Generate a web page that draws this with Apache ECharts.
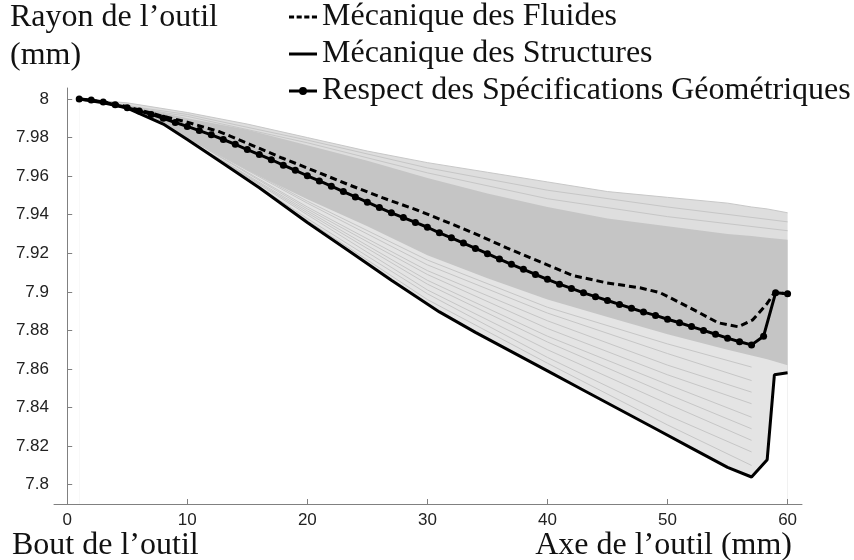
<!DOCTYPE html>
<html>
<head>
<meta charset="utf-8">
<script src="https://cdn.jsdelivr.net/npm/echarts@6/dist/echarts.min.js"></script>
<style>html,body{margin:0;padding:0;background:#fff}#c{width:854px;height:560px}</style>
</head>
<body>
<div id="c"></div>
<script>
// ---- data ----
const xTicks = [0, 10, 20, 30, 40, 50, 60];
const yTicks = [7.8, 7.82, 7.84, 7.86, 7.88, 7.9, 7.92, 7.94, 7.96, 7.98, 8];

const xFluides = [1, 3, 5, 8, 10, 12.7, 15.4, 17.9, 20.8, 23.5, 26.3, 29.1, 31.9, 33.8, 36.6, 39.4, 42.1, 44.9, 47.7, 49.4, 51, 52.7, 54.2, 55.9, 57.1, 58.3, 58.9, 60];
const yFluides = [8.000, 7.9985, 7.996, 7.991, 7.988, 7.983, 7.976, 7.9694, 7.9622, 7.9554, 7.9487, 7.9425, 7.9355, 7.9306, 7.9228, 7.9155, 7.9085, 7.9047, 7.9021, 7.8995, 7.8945, 7.889, 7.884, 7.8819, 7.8855, 7.894, 7.8995, 7.899];

const xStructures = [1, 3, 5, 8, 10, 13, 16, 20, 23.5, 27, 31, 34, 37, 40, 43, 46, 49, 52, 55, 57, 58.3, 58.9, 60];
const yStructures = [8.000, 7.998, 7.9953, 7.987, 7.979, 7.9665, 7.954, 7.936, 7.921, 7.906, 7.8896, 7.879, 7.869, 7.859, 7.849, 7.839, 7.829, 7.819, 7.809, 7.804, 7.813, 7.857, 7.858];

const xRespect = [1,2,3,4,5,6,7,8,9,10,11,12,13,14,15,16,17,18,19,20,21,22,23,24,25,26,27,28,29,30,31,32,33,34,35,36,37,38,39,40,41,42,43,44,45,46,47,48,49,50,51,52,53,54,55,56,57,58,59,60];
const yRespect = [8.000, 7.9995, 7.9985, 7.997, 7.9955, 7.9938, 7.992, 7.990, 7.9878, 7.9858,
  7.9836, 7.9814, 7.979, 7.9765, 7.9738, 7.9712, 7.9685, 7.9657, 7.963, 7.9602,
  7.9575, 7.9548, 7.952, 7.9492, 7.9465, 7.9437, 7.941, 7.9385, 7.936, 7.9335,
  7.9306, 7.928, 7.9253, 7.9225, 7.9198, 7.917, 7.9143, 7.9117, 7.909, 7.9065,
  7.904, 7.9018, 7.8995, 7.8975, 7.8955, 7.8935, 7.8915, 7.8895, 7.8878, 7.8858,
  7.884, 7.882, 7.880, 7.878, 7.876, 7.8741, 7.8725, 7.877, 7.8995, 7.899];

// grey fan of simulated profiles (envelopes)
const xFan = [1, 5, 10, 15, 20, 25, 30, 35, 40, 45, 50, 55, 57, 58.3, 60];
const fanTop = [8.000, 7.998, 7.993, 7.987, 7.980, 7.973, 7.967, 7.962, 7.957, 7.952, 7.949, 7.946, 7.944, 7.943, 7.941];
const bandTop = [8.000, 7.997, 7.990, 7.984, 7.976, 7.968, 7.959, 7.951, 7.944, 7.938, 7.934, 7.930, 7.929, 7.928, 7.927];
const bandBottom = [8.000, 7.994, 7.980, 7.963, 7.948, 7.934, 7.919, 7.907, 7.896, 7.887, 7.878, 7.870, 7.867, 7.865, 7.862];

// a few individual grey profiles visible in the light parts of the fan
const xUpperLines = [1, 10, 20, 30, 40, 50, 60];
const upperLine1 = [8.000, 7.992, 7.9787, 7.9643, 7.9527, 7.944, 7.9363];
const upperLine2 = [8.000, 7.991, 7.9773, 7.9617, 7.9483, 7.939, 7.9317];
const xLowerLines = [1, 10, 20, 30, 40, 50, 57];
const lowerLine1 = [8.000, 7.980, 7.947, 7.9165, 7.892, 7.873, 7.861];
const lowerLine2 = [8.000, 7.980, 7.946, 7.914, 7.889, 7.868, 7.854];
const lowerLine3 = [8.000, 7.980, 7.944, 7.911, 7.885, 7.862, 7.848];
const lowerLine4 = [8.000, 7.980, 7.943, 7.909, 7.881, 7.857, 7.842];
const lowerLine5 = [8.000, 7.979, 7.942, 7.906, 7.877, 7.852, 7.835];
const lowerLine6 = [8.000, 7.979, 7.941, 7.904, 7.874, 7.847, 7.829];
const lowerLine7 = [8.000, 7.979, 7.940, 7.901, 7.870, 7.842, 7.823];
const lowerLine8 = [8.000, 7.979, 7.938, 7.899, 7.866, 7.836, 7.817];
const lowerLine9 = [8.000, 7.979, 7.937, 7.896, 7.863, 7.831, 7.810];

const names = ['Mécanique des Fluides', 'Mécanique des Structures', 'Respect des Spécifications Géométriques'];

function pairs(xs, ys) { return xs.map((x, i) => [x, ys[i]]); }

const serif = '"Liberation Serif", "Times New Roman", serif';
const sans = '"Liberation Sans", Arial, sans-serif';

const iconDashed = 'path://M0,0h5v3h-5z M7.5,0h5v3h-5z M15,0h5v3h-5z M22.5,0h5v3h-5z';
const iconSolid = 'path://M0,0h28v3h-28z';
const iconDot = 'path://M0,3h28v3h-28z M10,4.5a4,4 0 1,1 8,0a4,4 0 1,1 -8,0z';

function fanLine(xs, ys) {
  return { type: 'line', z: 2, data: pairs(xs, ys), symbol: 'none', silent: true,
    lineStyle: { color: '#c6c6c6', width: 1 } };
}

const chart = echarts.init(document.getElementById('c'), null, { renderer: 'canvas' });
chart.setOption({
  animation: false,
  backgroundColor: '#fff',
  grid: { left: 54, right: 52, top: 88, bottom: 56, containLabel: false },
  xAxis: {
    type: 'value', min: -1.1, max: 61.2, z: 10,
    axisLine: { show: true, lineStyle: { color: '#808080', width: 1 } },
    axisTick: { show: true, inside: true, length: 5, lineStyle: { color: '#808080' }, customValues: xTicks },
    axisLabel: { customValues: xTicks, color: '#222', fontFamily: sans, fontSize: 17, margin: 8 },
    splitLine: { show: false }
  },
  yAxis: {
    type: 'value', min: 7.790, max: 8.0057, z: 10,
    axisLine: { show: true, lineStyle: { color: '#808080', width: 1 } },
    axisTick: { show: true, inside: true, length: 5, lineStyle: { color: '#808080' }, customValues: yTicks },
    axisLabel: { customValues: yTicks, color: '#222', fontFamily: sans, fontSize: 17, margin: 5,
      formatter: v => String(+(+v).toFixed(2)) },
    splitLine: { show: false }
  },
  legend: {
    orient: 'vertical', left: 289, top: 1, itemGap: 5, itemWidth: 28, itemHeight: 14,
    data: [
      { name: names[0], icon: iconDashed },
      { name: names[1], icon: iconSolid },
      { name: names[2], icon: iconDot }
    ],
    itemStyle: { color: '#000', borderWidth: 0 },
    textStyle: { fontFamily: serif, fontSize: 32, color: '#111', lineHeight: 32 },
    padding: 0
  },
  graphic: [
    { type: 'text', left: 10, top: 2, style: { text: 'Rayon de l’outil', font: '32px ' + serif, fill: '#111' } },
    { type: 'text', left: 10, top: 40, style: { text: '(mm)', font: '32px ' + serif, fill: '#111' } },
    { type: 'text', left: 12, top: 530, style: { text: 'Bout de l’outil', font: '32px ' + serif, fill: '#111' } },
    { type: 'text', right: 62, top: 530, style: { text: 'Axe de l’outil (mm)', font: '32px ' + serif, fill: '#111' } }
  ],
  series: [
    { name: 'fanTop', type: 'line', z: 1, data: pairs(xFan, fanTop), symbol: 'none', silent: true,
      lineStyle: { color: '#c8c8c8', width: 1 }, areaStyle: { color: '#dedede', origin: 'start', opacity: 1 } },
    { name: 'bandTop', type: 'line', z: 1, data: pairs(xFan, bandTop), symbol: 'none', silent: true,
      lineStyle: { width: 0 }, areaStyle: { color: '#c5c5c5', origin: 'start', opacity: 1 } },
    { name: 'bandBottom', type: 'line', z: 1, data: pairs(xFan, bandBottom), symbol: 'none', silent: true,
      lineStyle: { width: 0 }, areaStyle: { color: '#e4e4e4', origin: 'start', opacity: 1 } },
    fanLine(xUpperLines, upperLine1), fanLine(xUpperLines, upperLine2),
    fanLine(xLowerLines, lowerLine1), fanLine(xLowerLines, lowerLine2), fanLine(xLowerLines, lowerLine3),
    fanLine(xLowerLines, lowerLine4), fanLine(xLowerLines, lowerLine5), fanLine(xLowerLines, lowerLine6),
    fanLine(xLowerLines, lowerLine7), fanLine(xLowerLines, lowerLine8), fanLine(xLowerLines, lowerLine9),
    { name: names[1], type: 'line', z: 3, data: pairs(xStructures, yStructures), symbol: 'none',
      lineStyle: { color: '#000', width: 3 }, itemStyle: { color: '#000' },
      areaStyle: { color: '#fff', origin: 'start', opacity: 1 } },
    { name: names[0], type: 'line', z: 4, data: pairs(xFluides, yFluides), symbol: 'none',
      lineStyle: { color: '#000', width: 3, type: [7, 4] }, itemStyle: { color: '#000' } },
    { name: names[2], type: 'line', z: 4, data: pairs(xRespect, yRespect), symbol: 'circle', symbolSize: 7,
      lineStyle: { color: '#000', width: 3 }, itemStyle: { color: '#000' } }
  ]
});
</script>
</body>
</html>
